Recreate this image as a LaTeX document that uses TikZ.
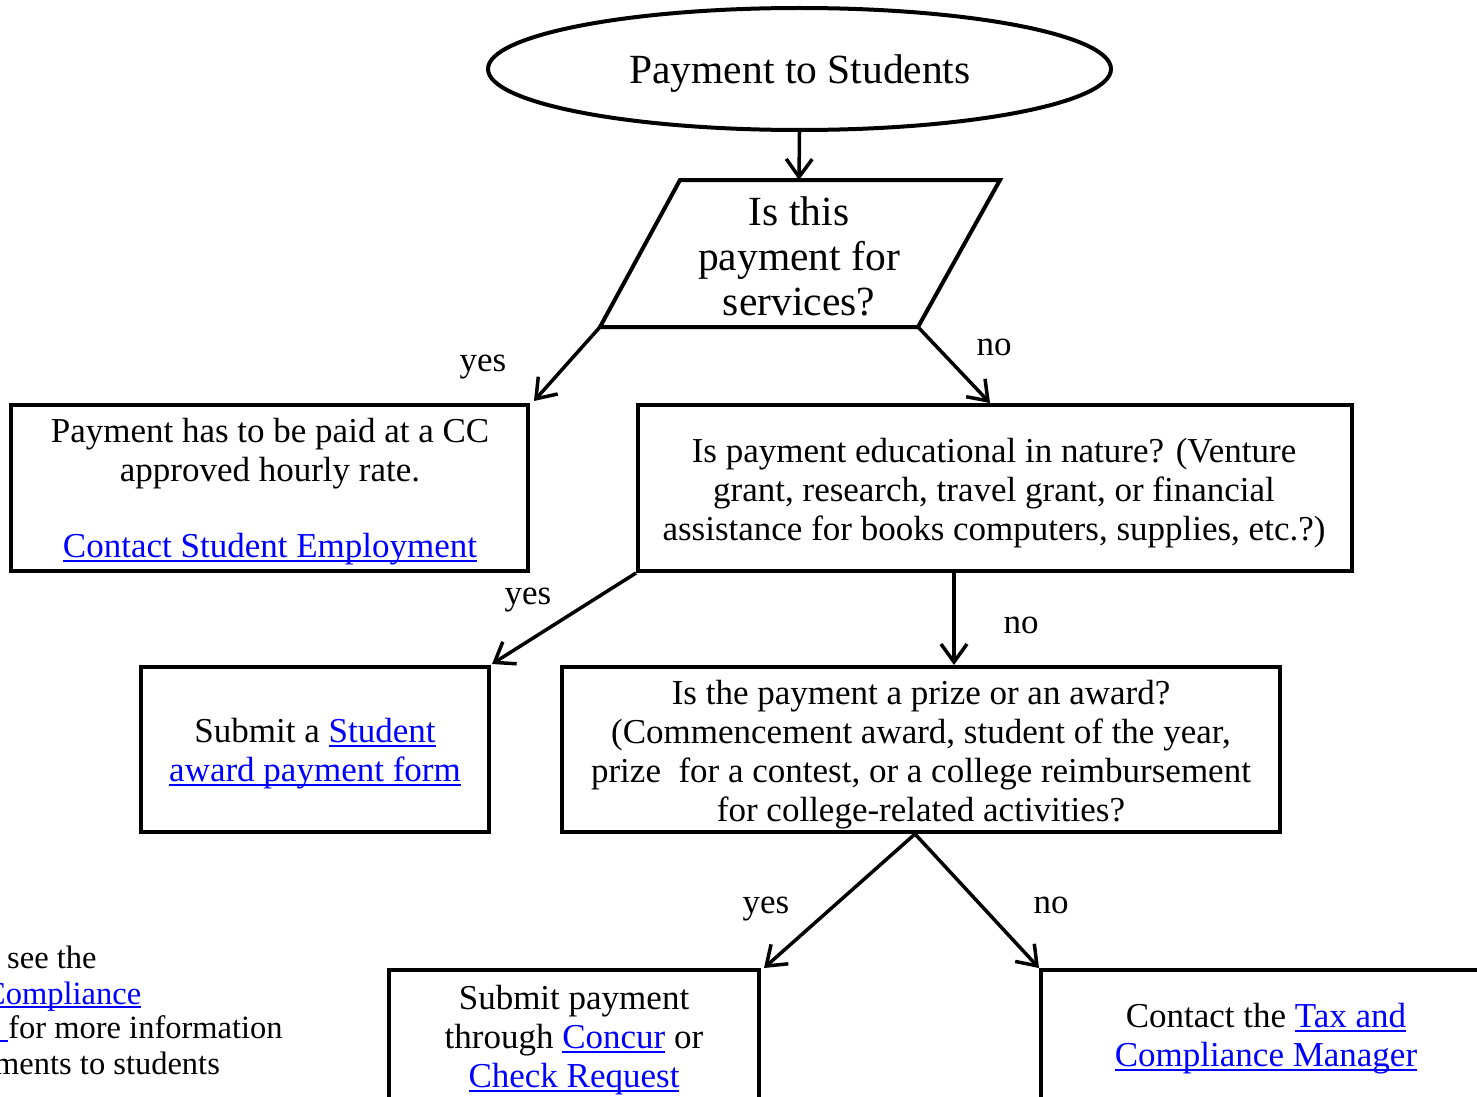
\documentclass[tikz,border=0pt]{standalone}
\usepackage{fontspec}
\setmainfont{Liberation Serif}
\usetikzlibrary{arrows.meta,shapes.geometric,calc}
\newcommand\lnk[1]{{\color{blue}\setbox0=\hbox{#1}\rlap{\rule[-0.12em]{\wd0}{0.06em}}\box0}}
\begin{document}
\begin{tikzpicture}[x=1pt,y=-1pt,
  box/.style={draw, line width=4pt, inner sep=0pt},
  body/.style={font=\fontsize{35}{39}\selectfont, align=center, inner sep=0pt},
  big/.style={font=\fontsize{41.5}{45}\selectfont, align=center, inner sep=0pt},
  conn/.style={line width=3.5pt, -{Straight Barb[length=18pt,width=26pt]}},
  lbl/.style={font=\fontsize{35}{39}\selectfont, inner sep=0pt, anchor=base},
  side/.style={font=\fontsize{32.5}{35}\selectfont, inner sep=0pt, anchor=base west}]
\useasboundingbox (0,0) rectangle (1477,1097);
\begin{scope}
\clip (0,0) rectangle (1477,1097);
% start
\node[ellipse, draw, line width=4pt, minimum width=623pt, minimum height=122pt, inner sep=0pt] (ell) at (799.5,69) {};
\node[big] (elltxt) at (800,74) {Payment to Students};
% parallelogram
\coordinate (ptl) at (680,180);
\coordinate (ptr) at (1000,180);
\coordinate (pbr) at (918,327);
\coordinate (pbl) at (600,327);
\coordinate (ptop) at (799,180);
\draw[line width=4pt] (ptl) -- (ptr) -- (pbr) -- (pbl) -- cycle;
\node[big] (ptxt) at (799,256) {Is this\\payment for\\services?};
% boxes
\node[box, minimum width=517pt, minimum height=166pt] (A) at (269.5,488) {};
\node[body] (At) at (270,492)
  {Payment has to be paid at a CC\\approved hourly rate.\\[37pt]\lnk{Contact Student Employment}};
\node[box, minimum width=714pt, minimum height=166pt] (B) at (995,488) {};
\node[body] (Bt) at (994,493)
  {Is payment educational in nature? (Venture\\grant, research, travel grant, or financial\\assistance for books computers, supplies, etc.?)};
\node[box, minimum width=348pt, minimum height=165pt] (C) at (315,749.5) {};
\node[body] (Ct) at (315,754)
  {Submit a \lnk{Student}\\\lnk{award payment form}};
\node[box, minimum width=718pt, minimum height=165pt] (D) at (921,749.5) {};
\node[body] (Dt) at (921,755)
  {Is the payment a prize or an award?\\(Commencement award, student of the year,\\prize\ \ for a contest, or a college reimbursement\\for college-related activities?};
\node[box, minimum width=370pt, minimum height=180pt] (E) at (574,1060) {};
\node[body] (Et) at (574,1040) {Submit payment\\through \lnk{Concur} or\\\lnk{Check Request}};
\node[box, minimum width=479pt, minimum height=180pt] (F) at (1280.5,1060) {};
\node[body] (Ft) at (1266,1039) {Contact the \lnk{Tax and}\\\lnk{Compliance Manager}};
% connectors
\draw[conn] (ell.south) -- (ptop);
\draw[conn] (pbl) -- ($(A.north east)+(4,-2)$);
\draw[conn] (pbr) -- ($(B.north west)+(354,0)$);
\draw[conn] (B.south west) -- ($(C.north east)+(1,-1)$);
\coordinate (bsplit) at ($(B.south west)+(318,0)$);
\draw[conn] (bsplit) -- (bsplit |- D.north);
\coordinate (dsplit) at ($(D.south)+(-6,0)$);
\draw[conn] (dsplit) -- ($(E.north east)+(3,0)$);
\draw[conn] (dsplit) -- (F.north west);
% labels
\node[lbl] (y1) at (483,371) {yes};
\node[lbl] (n1) at (994,355) {no};
\node[lbl] (y2) at (528,604) {yes};
\node[lbl] (n2) at (1021,633) {no};
\node[lbl] (y3) at (766,913) {yes};
\node[lbl] (n3) at (1051,913) {no};
% side note (cut off at left)
\node[side] (s1) at (7,968) {see the};
\node[side] (s2) at (-16,1004) {\lnk{Compliance}};
\node[side] (s3) at (0,1038) {\lnk{\ }for more information};
\node[side] (s4) at (-6,1074) {ments to students};
\end{scope}
\end{tikzpicture}
\end{document}
